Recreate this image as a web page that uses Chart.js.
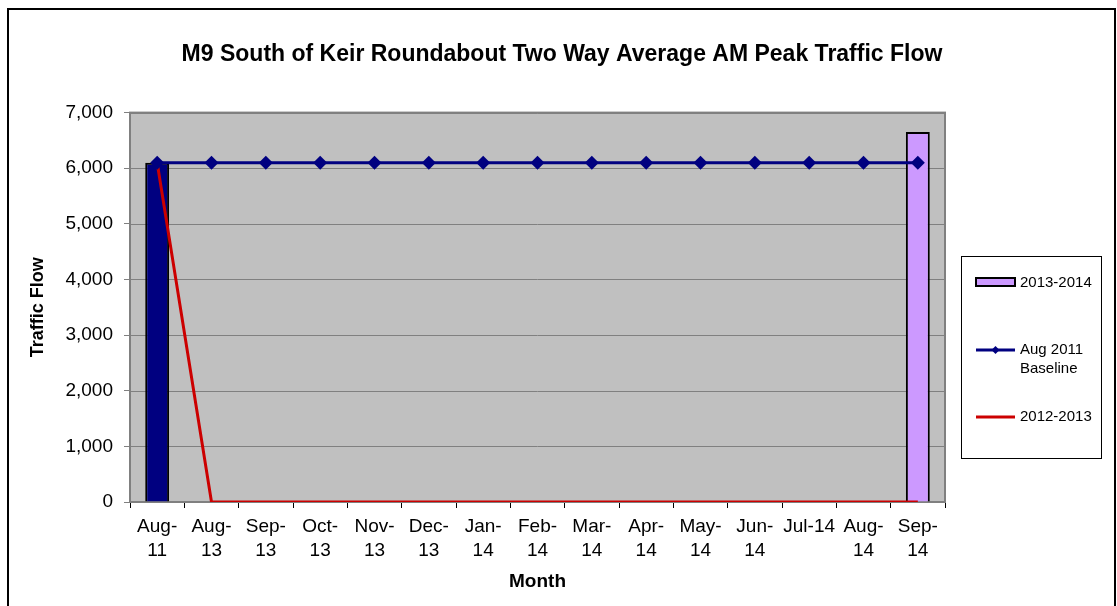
<!DOCTYPE html>
<html>
<head>
<meta charset="utf-8">
<script src="https://cdn.jsdelivr.net/npm/chart.js@4"></script>
<style>
  html, body { margin: 0; padding: 0; background: #fff; }
  #wrap { position: relative; width: 1117px; height: 606px; overflow: hidden; }
  #frame { position: absolute; left: 7px; top: 8px; width: 1109px; height: 620px; border: 2px solid #000; box-sizing: border-box; }
  canvas { position: absolute; left: 0; top: 0; }
</style>
</head>
<body>
<div id="wrap">
  <div id="frame"></div>
  <canvas id="trafficChart" width="1117" height="606"></canvas>
</div>
<script>
// month labels along the x axis
const months = [
  ["Aug-", "11"], ["Aug-", "13"], ["Sep-", "13"], ["Oct-", "13"], ["Nov-", "13"],
  ["Dec-", "13"], ["Jan-", "14"], ["Feb-", "14"], ["Mar-", "14"], ["Apr-", "14"],
  ["May-", "14"], ["Jun-", "14"], "Jul-14", ["Aug-", "14"], ["Sep-", "14"]
];

// series values
const aug2011Bar = [6100, null, null, null, null, null, null, null, null, null, null, null, null, null, null];
const flow2013_2014 = [null, null, null, null, null, null, null, null, null, null, null, null, null, null, 6650];
const baseline = [6100, 6100, 6100, 6100, 6100, 6100, 6100, 6100, 6100, 6100, 6100, 6100, 6100, 6100, 6100];
const flow2012_2013 = [6100, 0, 0, 0, 0, 0, 0, 0, 0, 0, 0, 0, 0, 0, 0];

const yTicks = [0, 1000, 2000, 3000, 4000, 5000, 6000, 7000];

const FONT = "'Liberation Sans', Arial, sans-serif";

// grey plot background + border, and the boxed legend on the right
const plotPlugin = {
    id: 'plotBox',
    beforeDatasetsDraw(chart) {
        const a = chart.chartArea;
        const ctx = chart.ctx;
        ctx.save();
        ctx.fillStyle = '#c0c0c0';
        ctx.fillRect(a.left, a.top, a.right - a.left, a.bottom - a.top);
        // redraw horizontal grid over the fill
        const y = chart.scales.y;
        ctx.strokeStyle = '#808080';
        ctx.lineWidth = 1;
        yTicks.forEach(v => {
            const py = Math.round(y.getPixelForValue(v)) + 0.5;
            ctx.beginPath();
            ctx.moveTo(a.left, py);
            ctx.lineTo(a.right, py);
            ctx.stroke();
        });
        ctx.lineWidth = 2;
        ctx.strokeRect(a.left, a.top, a.right - a.left, a.bottom - a.top);
        ctx.restore();
    },
    afterDraw(chart) {
        const ctx = chart.ctx;
        ctx.save();
        // legend box
        ctx.strokeStyle = '#000';
        ctx.lineWidth = 1;
        ctx.strokeRect(961.5, 256.5, 140, 202);
        ctx.font = '15px ' + FONT;
        ctx.textBaseline = 'middle';
        // 2013-2014 swatch
        ctx.fillStyle = '#cc99ff';
        ctx.fillRect(976, 278, 39, 8);
        ctx.lineWidth = 2;
        ctx.strokeRect(976, 278, 39, 8);
        ctx.fillStyle = '#000';
        ctx.fillText(chart.data.datasets[1].label, 1020, 283);
        // baseline
        ctx.strokeStyle = '#000080';
        ctx.lineWidth = 3;
        ctx.beginPath();
        ctx.moveTo(976, 350); ctx.lineTo(1015, 350); ctx.stroke();
        ctx.fillStyle = '#000080';
        ctx.beginPath();
        ctx.moveTo(995.5, 346); ctx.lineTo(999.5, 350); ctx.lineTo(995.5, 354); ctx.lineTo(991.5, 350);
        ctx.closePath(); ctx.fill();
        ctx.fillStyle = '#000';
        ctx.fillText('Aug 2011', 1020, 350);
        ctx.fillText('Baseline', 1020, 369);
        // 2012-2013
        ctx.strokeStyle = '#cc0000';
        ctx.beginPath();
        ctx.moveTo(976, 417); ctx.lineTo(1015, 417); ctx.stroke();
        ctx.fillText(chart.data.datasets[3].label, 1020, 417);
        ctx.restore();
    }
};

const ctx = document.getElementById('trafficChart').getContext('2d');
new Chart(ctx, {
    data: {
        labels: months,
        datasets: [
            {
                type: 'bar',
                label: 'Aug 2011',
                data: aug2011Bar,
                backgroundColor: '#000080',
                borderColor: '#000',
                borderWidth: 2,
                grouped: false,
                barPercentage: 0.44,
                categoryPercentage: 1,
                order: 3
            },
            {
                type: 'bar',
                label: '2013-2014',
                data: flow2013_2014,
                backgroundColor: '#cc99ff',
                borderColor: '#000',
                borderWidth: 2,
                grouped: false,
                barPercentage: 0.44,
                categoryPercentage: 1,
                order: 3
            },
            {
                type: 'line',
                label: 'Aug 2011 Baseline',
                data: baseline,
                borderColor: '#000080',
                backgroundColor: '#000080',
                borderWidth: 3,
                pointStyle: 'rectRot',
                pointRadius: 7,
                pointBorderWidth: 0,
                tension: 0,
                order: 1
            },
            {
                type: 'line',
                label: '2012-2013',
                data: flow2012_2013,
                borderColor: '#cc0000',
                backgroundColor: '#cc0000',
                borderWidth: 3,
                pointRadius: 0,
                tension: 0,
                order: 2
            }
        ]
    },
    options: {
        responsive: false,
        animation: false,
        layout: { padding: { left: 7, right: 0, top: 0, bottom: 0 } },
        plugins: {
            legend: { display: false },
            tooltip: { enabled: false },
            title: {
                display: true,
                text: 'M9 South of Keir Roundabout Two Way Average AM Peak Traffic Flow',
                color: '#000',
                font: { family: FONT, size: 23, weight: 'bold' },
                padding: { top: 41, bottom: 44 }
            }
        },
        scales: {
            x: {
                offset: true,
                grid: {
                    offset: true,
                    drawOnChartArea: false,
                    drawTicks: true,
                    tickLength: 6,
                    color: '#000'
                },
                border: { display: true, color: '#808080', width: 2 },
                ticks: {
                    color: '#000',
                    font: { family: FONT, size: 19, lineHeight: 1.27 },
                    padding: 7,
                    maxRotation: 0,
                    autoSkip: false
                },
                title: {
                    display: true,
                    text: 'Month',
                    color: '#000',
                    font: { family: FONT, size: 19, weight: 'bold' },
                    padding: { top: 0, bottom: 13 }
                },
                afterFit(scale) { scale.height = 104; }
            },
            y: {
                min: 0,
                max: 7000,
                afterBuildTicks(scale) { scale.ticks = yTicks.map(v => ({ value: v })); },
                grid: {
                    drawOnChartArea: true,
                    drawTicks: true,
                    tickLength: 6,
                    color: '#808080'
                },
                border: { display: true, color: '#808080', width: 2 },
                ticks: {
                    color: '#000',
                    font: { family: FONT, size: 19 },
                    padding: 11,
                    callback: v => v.toLocaleString('en-US')
                },
                title: {
                    display: true,
                    text: 'Traffic Flow',
                    color: '#000',
                    font: { family: FONT, size: 18, weight: 'bold' },
                    padding: { top: 20, bottom: 0 }
                },
                afterFit(scale) { scale.width = 123; }
            },
            // empty axis that keeps the room on the right for the legend box
            gap: {
                type: 'linear',
                position: 'right',
                display: true,
                grid: { display: false, drawTicks: false },
                border: { display: false },
                ticks: { display: false },
                afterFit(scale) { scale.width = 172; }
            }
        }
    },
    plugins: [plotPlugin]
});
</script>
</body>
</html>
